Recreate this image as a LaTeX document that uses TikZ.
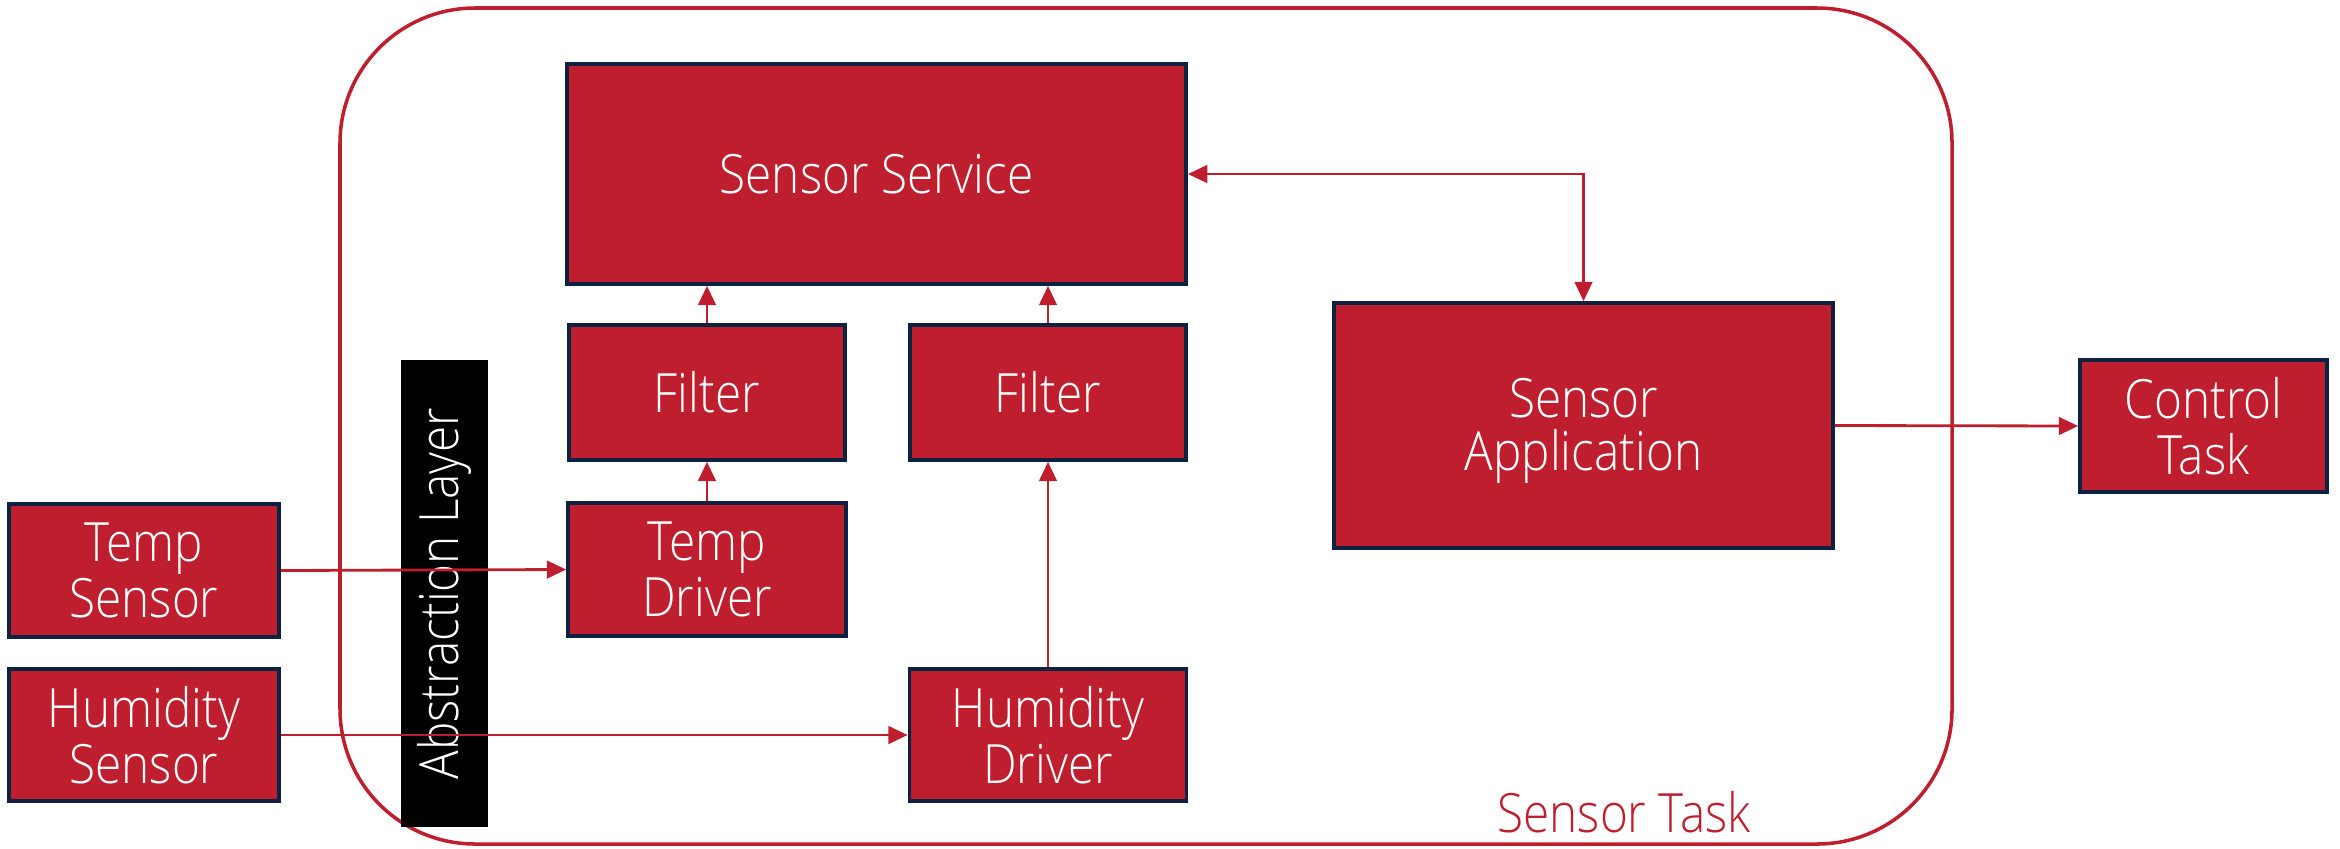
\documentclass[tikz,border=0pt]{standalone}
\usepackage{fontspec}
\setmainfont{Open Sans}[UprightFont=* Light, FakeStretch=0.88]
\usetikzlibrary{arrows.meta}
\definecolor{boxred}{HTML}{BE1E2D}
\definecolor{navy}{HTML}{0D2240}
\tikzset{
  lbl/.style={font=\fontsize{15.4}{16}\selectfont},
  blk/.style={lbl, draw=navy, fill=boxred, line width=1pt, text=white, align=center,
    inner sep=0pt},
  conn/.style={draw=boxred, line width=0.8pt, -{Triangle[length=5.5pt,width=5pt]}},
  bconn/.style={draw=boxred, line width=0.8pt, {Triangle[length=5.5pt,width=5pt]}-{Triangle[length=5.5pt,width=5pt]}},
}
\begin{document}
\begin{tikzpicture}[x=0.01cm,y=-0.01cm]
\useasboundingbox (0,0) rectangle (2340,848);
% outer task boundary
\draw[boxred, line width=1pt, rounded corners=1.35cm] (340,8) rectangle (1952,844);
\node[lbl, text=boxred, inner sep=0pt, anchor=base] (tasklabel) at (1624,832) {Sensor Task};
% abstraction layer
\node[fill=black, minimum width=0.87cm, minimum height=4.67cm, inner sep=0pt] (al) at (444.5,593.5) {};
\node[lbl, text=white, rotate=90, inner sep=0pt] (allabel) at (444.5,593.5) {Abstraction Layer};
% boxes
\node[blk, minimum width=6.19cm, minimum height=2.2cm] (ss) at (876.5,174) {Sensor Service};
\node[blk, minimum width=2.76cm, minimum height=1.35cm] (f1) at (707,392.5) {Filter};
\node[blk, minimum width=2.76cm, minimum height=1.35cm] (f2) at (1048,392.5) {Filter};
\node[blk, minimum width=2.78cm, minimum height=1.33cm] (td) at (707,569.5) {Temp\\Driver};
\node[blk, minimum width=2.77cm, minimum height=1.32cm] (hd) at (1048,735) {Humidity\\Driver};
\node[blk, minimum width=2.70cm, minimum height=1.33cm] (ts) at (144,570.5) {Temp\\Sensor};
\node[blk, minimum width=2.70cm, minimum height=1.32cm] (hs) at (144,735) {Humidity\\Sensor};
\node[blk, minimum width=4.99cm, minimum height=2.45cm] (sa) at (1583.5,425.5) {\raisebox{-0.2cm}[0pt][0pt]{\begin{tabular}{@{}c@{}}Sensor\\[-0.05cm]Application\end{tabular}}};
\node[blk, minimum width=2.47cm, minimum height=1.32cm] (ct) at (2203.5,426) {Control\\Task};
% connectors
\draw[conn] (f1.north) -- (f1.north |- ss.south);
\draw[conn] (f2.north) -- (f2.north |- ss.south);
\draw[conn] (td.north) -- (td.north |- f1.south);
\draw[conn] (hd.north) -- (hd.north |- f2.south);
\draw[conn] (ts.east) -- (td.west);
\draw[conn] (hs.east) -- (hd.west);
\draw[bconn] (ss.east) -| (sa.north);
\draw[conn] (sa.east) -- (ct.west);
\end{tikzpicture}
\end{document}
